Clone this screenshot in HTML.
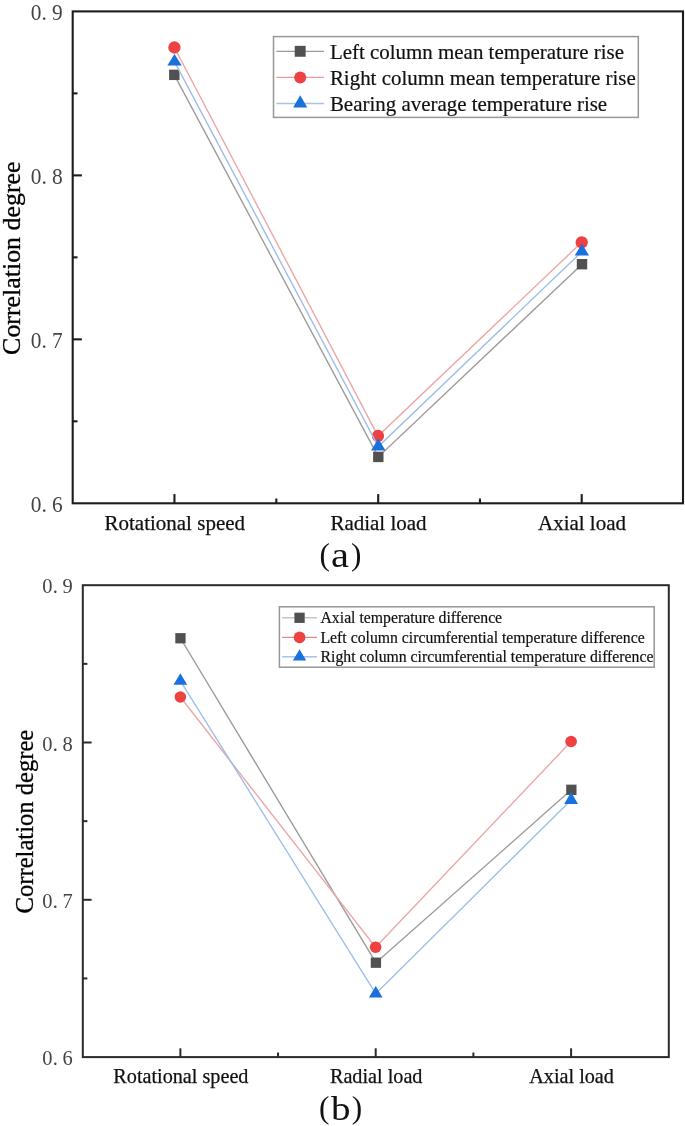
<!DOCTYPE html>
<html><head><meta charset="utf-8"><style>
html,body{margin:0;padding:0;background:#fff;}
svg{display:block;will-change:transform;}
text{font-family:"Liberation Serif", serif;}
</style></head><body>
<svg width="685" height="1126" viewBox="0 0 685 1126">
<rect width="685" height="1126" fill="#fff"/>
<polyline points="174.3,74.85 378.3,456.9 582,264.2" fill="none" stroke="#9c9c9c" stroke-width="1.4"/>
<rect x="169.1" y="69.65" width="10.4" height="10.4" fill="#515151"/>
<rect x="373.1" y="451.7" width="10.4" height="10.4" fill="#515151"/>
<rect x="576.8" y="259" width="10.4" height="10.4" fill="#515151"/>
<polyline points="174.4,47.5 378,436 581.7,242.3" fill="none" stroke="#eca6a6" stroke-width="1.4"/>
<circle cx="174.4" cy="47.5" r="6.15" fill="#ee4141"/>
<circle cx="378" cy="436" r="6.15" fill="#ee4141"/>
<circle cx="581.7" cy="242.3" r="6.15" fill="#ee4141"/>
<polyline points="174.5,61.7 378.3,446.54 581.9,251.64" fill="none" stroke="#9dbeea" stroke-width="1.4"/>
<polygon points="174.5,53.9 167.3,65.6 181.7,65.6" fill="#1a70dd"/>
<polygon points="378.3,438.4 371.1,450.6 385.5,450.6" fill="#1a70dd"/>
<polygon points="581.9,243.7 574.7,255.6 589.1,255.6" fill="#1a70dd"/>
<rect x="72.7" y="11.4" width="610.3" height="491.9" fill="none" stroke="#1c1c1c" stroke-width="2.1"/>
<line x1="72.7" y1="93.38" x2="77.5" y2="93.38" stroke="#1c1c1c" stroke-width="2.1"/>
<line x1="72.7" y1="175.37" x2="81.9" y2="175.37" stroke="#1c1c1c" stroke-width="2.1"/>
<line x1="72.7" y1="257.35" x2="77.5" y2="257.35" stroke="#1c1c1c" stroke-width="2.1"/>
<line x1="72.7" y1="339.33" x2="81.9" y2="339.33" stroke="#1c1c1c" stroke-width="2.1"/>
<line x1="72.7" y1="421.32" x2="77.5" y2="421.32" stroke="#1c1c1c" stroke-width="2.1"/>
<line x1="174.45" y1="503.3" x2="174.45" y2="494.1" stroke="#1c1c1c" stroke-width="2.1"/>
<line x1="378.2" y1="503.3" x2="378.2" y2="494.1" stroke="#1c1c1c" stroke-width="2.1"/>
<line x1="581.7" y1="503.3" x2="581.7" y2="494.1" stroke="#1c1c1c" stroke-width="2.1"/>
<line x1="276.32" y1="503.3" x2="276.32" y2="498.5" stroke="#1c1c1c" stroke-width="2.1"/>
<line x1="479.95" y1="503.3" x2="479.95" y2="498.5" stroke="#1c1c1c" stroke-width="2.1"/>
<text transform="translate(30.7,19.7) scale(0.93,1)" x="0 11.72 14.72 22.8" font-size="23" fill="#444">0. 9</text>
<text transform="translate(30.7,183.67) scale(0.93,1)" x="0 11.72 14.72 22.8" font-size="23" fill="#444">0. 8</text>
<text transform="translate(30.7,347.63) scale(0.93,1)" x="0 11.72 14.72 22.8" font-size="23" fill="#444">0. 7</text>
<text transform="translate(30.7,511.6) scale(0.93,1)" x="0 11.72 14.72 22.8" font-size="23" fill="#444">0. 6</text>
<text x="174.75" y="530" font-size="21" text-anchor="middle" fill="#111" stroke="#111" stroke-width="0.25">Rotational speed</text>
<text x="378.5" y="530" font-size="21" text-anchor="middle" fill="#111" stroke="#111" stroke-width="0.25">Radial load</text>
<text x="582" y="530" font-size="21" text-anchor="middle" fill="#111" stroke="#111" stroke-width="0.25">Axial load</text>
<text transform="translate(20.4,258.2) rotate(-90)" font-size="25.9" text-anchor="middle" fill="#000" stroke="#000" stroke-width="0.3">Correlation degree</text>
<rect x="273.5" y="36.6" width="364.8" height="80.8" fill="none" stroke="#979797" stroke-width="1.5"/>
<line x1="276.4" y1="51.3" x2="324" y2="51.3" stroke="#9a9a9a" stroke-width="1.3"/>
<rect x="294.75" y="45.85" width="10.9" height="10.9" fill="#515151"/>
<text x="329.9" y="58.8" font-size="20.95" fill="#111" stroke="#111" stroke-width="0.2">Left column mean temperature rise</text>
<line x1="276.4" y1="77.4" x2="324" y2="77.4" stroke="#e89c9c" stroke-width="1.3"/>
<circle cx="300.2" cy="77.4" r="6" fill="#ee4141"/>
<text x="329.9" y="84.6" font-size="20.95" fill="#111" stroke="#111" stroke-width="0.2">Right column mean temperature rise</text>
<line x1="276.4" y1="103.5" x2="324" y2="103.5" stroke="#a8c4ec" stroke-width="1.3"/>
<polygon points="300.2,95.3 293.15,107.5 307.25,107.5" fill="#1a70dd"/>
<text x="329.9" y="110.5" font-size="20.95" fill="#111" stroke="#111" stroke-width="0.2">Bearing average temperature rise</text>
<text transform="translate(319.6,564.7) scale(1,1)" font-size="31.3" fill="#111">(</text>
<text transform="translate(331,566.5) scale(1.13,1)" font-size="35.8" fill="#111">a</text>
<text transform="translate(351,564.7) scale(1,1)" font-size="31.3" fill="#111">)</text>
<polyline points="180.45,638.25 375.9,962.7 571.35,789.8" fill="none" stroke="#9c9c9c" stroke-width="1.4"/>
<rect x="175.3" y="633.1" width="10.3" height="10.3" fill="#515151"/>
<rect x="370.75" y="957.55" width="10.3" height="10.3" fill="#515151"/>
<rect x="566.2" y="784.65" width="10.3" height="10.3" fill="#515151"/>
<polyline points="180.35,697 375.6,947.2 571.1,741.5" fill="none" stroke="#eca6a6" stroke-width="1.4"/>
<circle cx="180.35" cy="697" r="5.8" fill="#ee4141"/>
<circle cx="375.6" cy="947.2" r="5.8" fill="#ee4141"/>
<circle cx="571.1" cy="741.5" r="5.8" fill="#ee4141"/>
<polyline points="180.35,680.87 375.75,993.7 571.1,799.9" fill="none" stroke="#9dbeea" stroke-width="1.4"/>
<polygon points="180.35,673.2 173.5,684.7 187.2,684.7" fill="#1a70dd"/>
<polygon points="375.75,986.1 368.9,997.5 382.6,997.5" fill="#1a70dd"/>
<polygon points="571.1,791.9 564.25,803.9 577.95,803.9" fill="#1a70dd"/>
<rect x="82.8" y="585.2" width="586" height="471.9" fill="none" stroke="#2a2a2a" stroke-width="2.0"/>
<line x1="82.8" y1="663.85" x2="87.4" y2="663.85" stroke="#2a2a2a" stroke-width="2.0"/>
<line x1="82.8" y1="742.5" x2="91.6" y2="742.5" stroke="#2a2a2a" stroke-width="2.0"/>
<line x1="82.8" y1="821.15" x2="87.4" y2="821.15" stroke="#2a2a2a" stroke-width="2.0"/>
<line x1="82.8" y1="899.8" x2="91.6" y2="899.8" stroke="#2a2a2a" stroke-width="2.0"/>
<line x1="82.8" y1="978.45" x2="87.4" y2="978.45" stroke="#2a2a2a" stroke-width="2.0"/>
<line x1="180.4" y1="1057.1" x2="180.4" y2="1048.3" stroke="#2a2a2a" stroke-width="2.0"/>
<line x1="375.7" y1="1057.1" x2="375.7" y2="1048.3" stroke="#2a2a2a" stroke-width="2.0"/>
<line x1="571.1" y1="1057.1" x2="571.1" y2="1048.3" stroke="#2a2a2a" stroke-width="2.0"/>
<line x1="278.05" y1="1057.1" x2="278.05" y2="1052.5" stroke="#2a2a2a" stroke-width="2.0"/>
<line x1="473.4" y1="1057.1" x2="473.4" y2="1052.5" stroke="#2a2a2a" stroke-width="2.0"/>
<text transform="translate(42.14,593.2) scale(0.93,1)" x="0 11.46 14.46 22" font-size="22" fill="#444">0. 9</text>
<text transform="translate(42.14,750.5) scale(0.93,1)" x="0 11.46 14.46 22" font-size="22" fill="#444">0. 8</text>
<text transform="translate(42.14,907.8) scale(0.93,1)" x="0 11.46 14.46 22" font-size="22" fill="#444">0. 7</text>
<text transform="translate(42.14,1065.1) scale(0.93,1)" x="0 11.46 14.46 22" font-size="22" fill="#444">0. 6</text>
<text x="180.9" y="1082.9" font-size="20.2" text-anchor="middle" fill="#111" stroke="#111" stroke-width="0.25">Rotational speed</text>
<text x="376.2" y="1082.9" font-size="20.2" text-anchor="middle" fill="#111" stroke="#111" stroke-width="0.25">Radial load</text>
<text x="571.6" y="1082.9" font-size="20.2" text-anchor="middle" fill="#111" stroke="#111" stroke-width="0.25">Axial load</text>
<text transform="translate(32.9,821.6) rotate(-90)" font-size="24.6" text-anchor="middle" fill="#000" stroke="#000" stroke-width="0.3">Correlation degree</text>
<rect x="279.4" y="606.8" width="374.8" height="60.4" fill="none" stroke="#979797" stroke-width="1.5"/>
<line x1="282.1" y1="617.8" x2="317" y2="617.8" stroke="#c6c6c6" stroke-width="1.4"/>
<rect x="294.4" y="612.65" width="10.3" height="10.3" fill="#515151"/>
<text x="320.5" y="622.9" font-size="15.75" fill="#111" stroke="#111" stroke-width="0.2">Axial temperature difference</text>
<line x1="282.1" y1="637.4" x2="317" y2="637.4" stroke="#da8c8c" stroke-width="1.4"/>
<circle cx="299.55" cy="637.4" r="5.85" fill="#ee4141"/>
<text x="320.5" y="642.6" font-size="15.75" fill="#111" stroke="#111" stroke-width="0.2">Left column circumferential temperature difference</text>
<line x1="282.1" y1="656.7" x2="317" y2="656.7" stroke="#a8c4ec" stroke-width="1.4"/>
<polygon points="299.55,649.2 292.9,660.4 306.2,660.4" fill="#1a70dd"/>
<text x="320.5" y="662" font-size="15.75" fill="#111" stroke="#111" stroke-width="0.2">Right column circumferential temperature difference</text>
<text transform="translate(319,1118) scale(1,1)" font-size="31.3" fill="#111">(</text>
<text transform="translate(331,1120.4) scale(1.15,1)" font-size="34" fill="#111">b</text>
<text transform="translate(351.8,1118) scale(1,1)" font-size="31.3" fill="#111">)</text>
</svg>
</body></html>
